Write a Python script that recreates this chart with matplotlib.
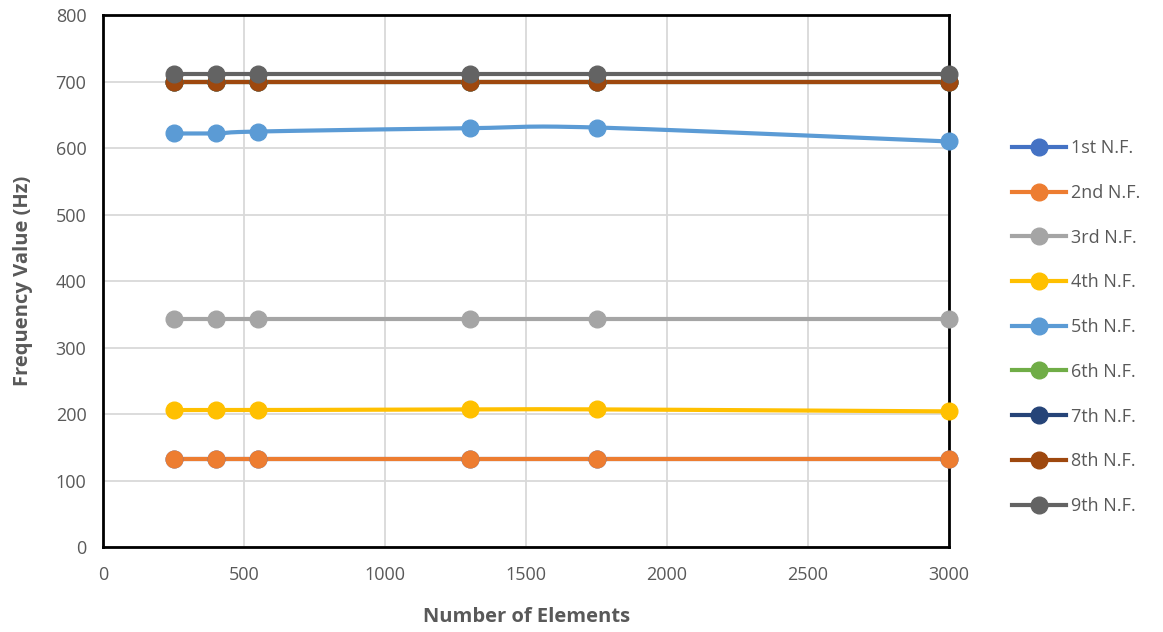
import matplotlib.pyplot as plt
import numpy as np

elements = [250, 400, 550, 1300, 1750, 3000]
labels = ['1st N.F.', '2nd N.F.', '3rd N.F.', '4th N.F.', '5th N.F.',
          '6th N.F.', '7th N.F.', '8th N.F.', '9th N.F.']
nf1 = [132, 132, 132, 132, 132, 132]
nf2 = [132, 132, 132, 132, 132, 132]
nf3 = [343, 343, 343, 343, 343, 343]
nf4 = [206, 206, 206, 207, 207, 204]
nf5 = [622, 622, 625, 630, 631, 610]
nf6 = [700, 700, 700, 700, 700, 700]
nf7 = [700, 700, 700, 700, 700, 700]
nf8 = [700, 700, 700, 700, 700, 700]
nf9 = [711, 711, 711, 711, 711, 711]
colors = ['#4472c4', '#ed7d31', '#a5a5a5', '#ffc000', '#5b9bd5',
          '#70ad47', '#264478', '#9e480e', '#636363']


def smooth(x, y, n=30):
    # Excel-style smoothed line (Catmull-Rom bezier)
    x = np.asarray(x, float)
    y = np.asarray(y, float)
    px = np.concatenate([[x[0]], x, [x[-1]]])
    py = np.concatenate([[y[0]], y, [y[-1]]])
    xs, ys = [], []
    t = np.linspace(0, 1, n)
    for i in range(1, len(px) - 2):
        p0, p1, p2, p3 = [np.array([px[j], py[j]]) for j in range(i - 1, i + 3)]
        c1 = p1 + (p2 - p0) / 6
        c2 = p2 - (p3 - p1) / 6
        b = ((1 - t) ** 3)[:, None] * p1 + (3 * (1 - t) ** 2 * t)[:, None] * c1 \
            + (3 * (1 - t) * t ** 2)[:, None] * c2 + (t ** 3)[:, None] * p2
        xs.extend(b[:, 0])
        ys.extend(b[:, 1])
    return xs, ys


plt.rcParams['font.family'] = ['Open Sans', 'DejaVu Sans']

fig = plt.figure(figsize=(11.63, 6.32), dpi=100)
ax = fig.add_axes([0.0886, 0.1345, 0.7275, 0.8415])

series = [nf1, nf2, nf3, nf4, nf5, nf6, nf7, nf8, nf9]
for vals, lab, c in zip(series, labels, colors):
    sx, sy = smooth(elements, vals)
    ax.plot(sx, sy, color=c, lw=3, zorder=3, clip_on=False)
    ax.plot(elements, vals, 'o', color=c, ms=12, zorder=4, clip_on=False)
    ax.plot([], [], '-o', color=c, lw=3, ms=12, label=lab)

ax.set_xlim(0, 3000)
ax.set_ylim(0, 800)
ax.set_xticks(np.arange(0, 3001, 500))
ax.set_yticks(np.arange(0, 801, 100))
ax.grid(True, color='#d9d9d9', lw=1.3)
ax.set_axisbelow(True)
for s in ax.spines.values():
    s.set_color('black')
    s.set_linewidth(2)
ax.tick_params(length=0, labelsize=13, labelcolor='#595959')
ax.tick_params(axis='x', pad=14)
ax.tick_params(axis='y', pad=12)

ax.set_xlabel('Number of Elements', fontsize=14.5, fontweight='bold',
              color='#595959', labelpad=16)
ax.set_ylabel('Frequency Value (Hz)', fontsize=14.5, fontweight='bold',
              color='#595959', labelpad=16)

leg = ax.legend(loc='center left', bbox_to_anchor=(1.055, 0.4135), frameon=False,
                fontsize=13, labelspacing=1.48, handlelength=3.0,
                handletextpad=0.3, labelcolor='#595959')

fig.savefig('out.png', dpi=100)
